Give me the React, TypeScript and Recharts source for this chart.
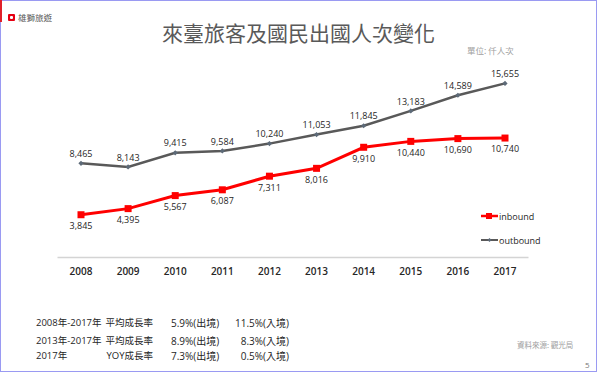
import { LineChart, Line, XAxis, YAxis, LabelList, Legend } from 'recharts';

const years = ['2008', '2009', '2010', '2011', '2012', '2013', '2014', '2015', '2016', '2017'];
const inbound = [3845, 4395, 5567, 6087, 7311, 8016, 9910, 10440, 10690, 10740];
const outbound = [8465, 8143, 9415, 9584, 10240, 11053, 11845, 13183, 14589, 15655];

const growthRows = [
  { period: '2008年-2017年', metric: '平均成長率', out: '5.9%(出境)', inb: '11.5%(入境)' },
  { period: '2013年-2017年', metric: '平均成長率', out: '8.9%(出境)', inb: '8.3%(入境)' },
  { period: '2017年', metric: 'YOY成長率', out: '7.3%(出境)', inb: '0.5%(入境)' },
];

const data = years.map((year, i) => ({ year, inbound: inbound[i], outbound: outbound[i] }));

const FONT = '"Open Sans", "Noto Sans CJK TC", sans-serif';
const CJK = '"Noto Sans CJK TC", sans-serif';
const RED = '#ff0000';
const GRAY = '#595959';

const fmt = (v: any) => Number(v).toLocaleString('en-US');

function SquareDot(props: any) {
  const { cx, cy } = props;
  if (cx == null || cy == null) return null;
  return <rect x={cx - 3.5} y={cy - 3.5} width={7} height={7} fill={RED} />;
}

function DiamondDot(props: any) {
  const { cx, cy } = props;
  if (cx == null || cy == null) return null;
  const r = 2.6;
  return <polygon points={`${cx},${cy - r} ${cx + r},${cy} ${cx},${cy + r} ${cx - r},${cy}`} fill="#5d6a78" />;
}

function LegendBox() {
  const item = (key: string, color: string, square: boolean, label: string) => (
    <div key={key} style={{ display: 'flex', alignItems: 'center', height: 24 }}>
      <svg width={17} height={8} style={{ marginRight: 1 }}>
        <line x1={0} y1={4} x2={17} y2={4} stroke={color} strokeWidth={square ? 2.5 : 2} />
        {square ? (
          <rect x={5} y={1} width={6} height={6} fill={color} />
        ) : (
          <polygon points="8.5,2 10.5,4 8.5,6 6.5,4" fill="#5d6a78" />
        )}
      </svg>
      <span style={{ fontFamily: FONT, fontSize: 9, color: '#262626' }}>{label}</span>
    </div>
  );
  return (
    <div>
      {item('in', RED, true, 'inbound')}
      {item('out', GRAY, false, 'outbound')}
    </div>
  );
}

export default function App() {
  return (
    <div style={{ position: 'absolute', left: 0, top: 0, width: 598, height: 373, background: '#fff', overflow: 'hidden' }}>
      {/* slide frame */}
      <div style={{ position: 'absolute', left: 0, top: 0, width: 595, height: 370, border: '1px solid #9a9af2' }} />
      <div style={{ position: 'absolute', left: 0, top: 0, width: 2, height: 22, background: '#e0202a' }} />

      {/* logo */}
      <div style={{ position: 'absolute', left: 8, top: 14, width: 7, height: 7, background: '#e60012', borderRadius: 1 }}>
        <div style={{ position: 'absolute', left: 2, top: 2, width: 3, height: 3, background: '#fff', borderRadius: 1 }} />
      </div>
      <div style={{ position: 'absolute', left: 18, top: 11, fontFamily: CJK, fontSize: 8.5, color: '#555', lineHeight: '12px' }}>雄獅旅遊</div>

      {/* title */}
      <div style={{ position: 'absolute', left: 162, top: 17, fontFamily: CJK, fontSize: 21, color: '#595959', lineHeight: '30px', whiteSpace: 'nowrap' }}>
        來臺旅客及國民出國人次變化
      </div>
      <div style={{ position: 'absolute', left: 467, top: 44, fontFamily: CJK, fontSize: 8.5, color: '#a0a0a0', lineHeight: '12px', whiteSpace: 'nowrap' }}>
        單位: 仟人次
      </div>

      <div style={{ position: 'absolute', left: 0, top: 0 }}>
        <LineChart width={598} height={373} data={data} margin={{ top: 57.3, right: 69.5, bottom: 85.5, left: 57.5 }}>
          <XAxis
            dataKey="year"
            padding={{ left: 23.5, right: 23.5 }}
            axisLine={{ stroke: '#d4d4d4', strokeWidth: 1.5 }}
            tickLine={false}
            tickMargin={4}
            tick={{ fill: '#262626', fontSize: 10, fontWeight: 600, fontFamily: FONT }}
          />
          <YAxis hide domain={[0, 18000]} />
          <Legend
            layout="vertical"
            align="center"
            verticalAlign="middle"
            wrapperStyle={{ left: 481, top: 204, width: 90 }}
            content={() => <LegendBox />}
          />
          <Line
            dataKey="outbound"
            name="outbound"
            stroke={GRAY}
            strokeWidth={2.5}
            dot={<DiamondDot />}
            activeDot={false}
            isAnimationActive={false}
          >
            <LabelList dataKey="outbound" position="top" offset={6.3} formatter={fmt} fill="#262626" fontSize={9} fontFamily={FONT} />
          </Line>
          <Line
            dataKey="inbound"
            name="inbound"
            stroke={RED}
            strokeWidth={3}
            dot={<SquareDot />}
            activeDot={false}
            isAnimationActive={false}
          >
            <LabelList dataKey="inbound" position="bottom" offset={8} formatter={fmt} fill="#262626" fontSize={9} fontFamily={FONT} />
          </Line>
        </LineChart>
      </div>

      {/* growth rates */}
      {growthRows.map((r, i) => {
        const top = [316, 334, 349][i];
        const base = { position: 'absolute' as const, top, fontFamily: FONT, fontSize: 9.5, color: '#262626', lineHeight: '14px', whiteSpace: 'nowrap' as const };
        return (
          <div key={i}>
            <div style={{ ...base, left: 36 }}>{r.period}</div>
            <div style={{ ...base, right: 598 - 153, textAlign: 'right' }}>{r.metric}</div>
            <div style={{ ...base, fontSize: 10, left: 171 }}>{r.out}</div>
            <div style={{ ...base, fontSize: 10, right: 598 - 289, textAlign: 'right' }}>{r.inb}</div>
          </div>
        );
      })}

      <div style={{ position: 'absolute', left: 517, top: 339, fontFamily: CJK, fontSize: 7.5, color: '#a0a0a0', lineHeight: '12px', whiteSpace: 'nowrap' }}>
        資料來源: 觀光局
      </div>
      <div style={{ position: 'absolute', left: 585, top: 359, fontFamily: FONT, fontSize: 8, color: '#777', lineHeight: '12px' }}>5</div>
    </div>
  );
}
